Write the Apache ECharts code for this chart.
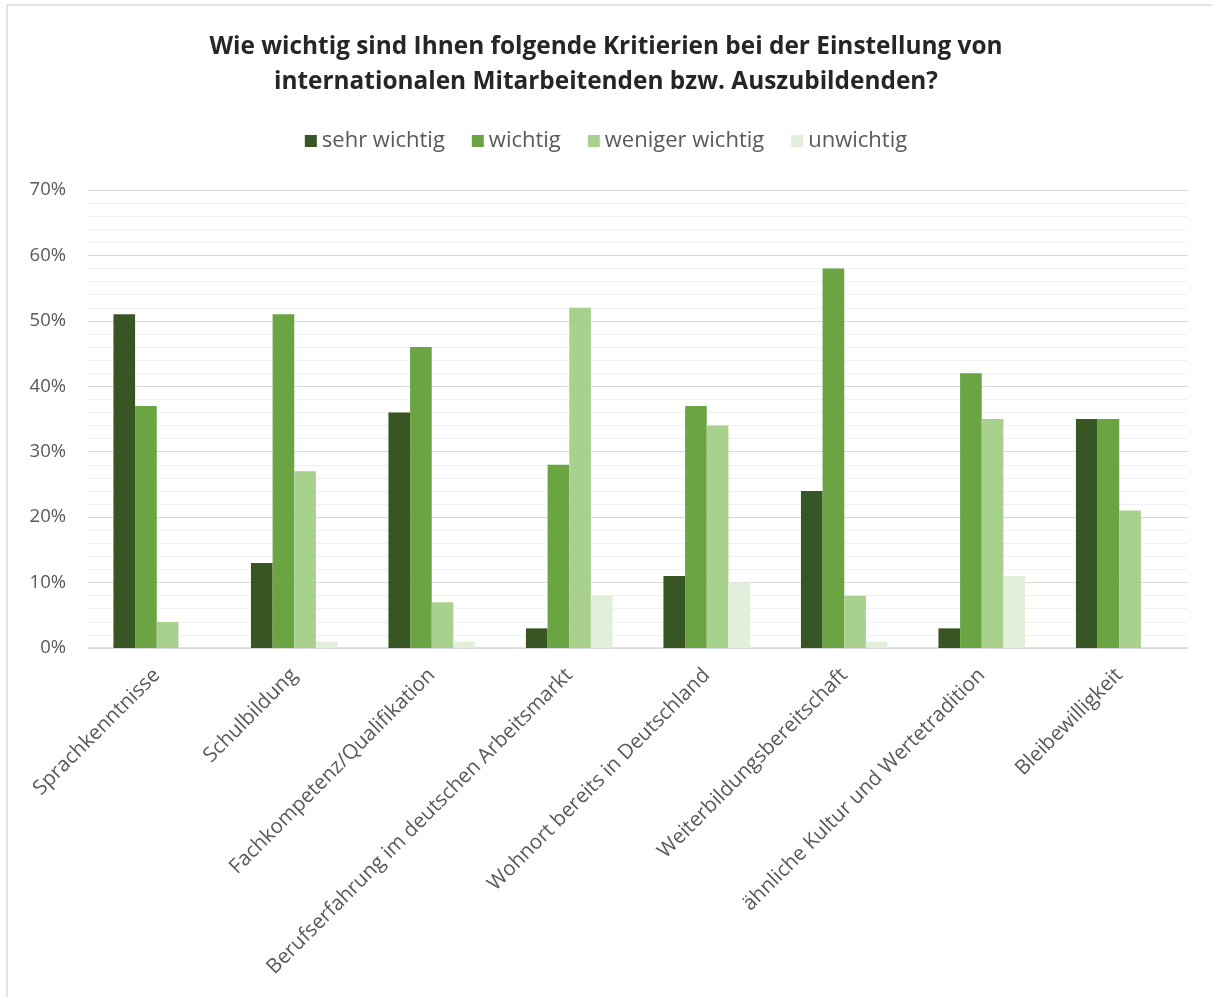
<!DOCTYPE html>
<html>
<head>
<meta charset="utf-8">
<script src="https://cdn.jsdelivr.net/npm/echarts@6/dist/echarts.min.js"></script>
<style>
  html, body { margin: 0; padding: 0; background: #fff; }
  #chart { width: 1212px; height: 997px; }
</style>
</head>
<body>
<div id="chart"></div>
<script>
// Criteria and the share of answers per rating (percent)
const categories = [
  'Sprachkenntnisse',
  'Schulbildung',
  'Fachkompetenz/Qualifikation',
  'Berufserfahrung im deutschen Arbeitsmarkt',
  'Wohnort bereits in Deutschland',
  'Weiterbildungsbereitschaft',
  'ähnliche Kultur und Wertetradition',
  'Bleibewilligkeit'
];
const seriesNames = ['sehr wichtig', 'wichtig', 'weniger wichtig', 'unwichtig'];
const sehrWichtig    = [51, 13, 36,  3, 11, 24,  3, 35];
const wichtig        = [37, 51, 46, 28, 37, 58, 42, 35];
const wenigerWichtig = [ 4, 27,  7, 52, 34,  8, 35, 21];
const unwichtig      = [ 0,  1,  1,  8, 10,  1, 11,  0];
const yTicks = [0, 10, 20, 30, 40, 50, 60, 70];

const colors = ['#375623', '#6aa443', '#a9d18e', '#e2efda'];
const font = '"Open Sans", "DejaVu Sans", sans-serif';

const chart = echarts.init(document.getElementById('chart'), null, { renderer: 'canvas' });

const values = [sehrWichtig, wichtig, wenigerWichtig, unwichtig];

chart.setOption({
  animation: false,
  backgroundColor: '#fff',
  color: colors,
  title: {
    text: 'Wie wichtig sind Ihnen folgende Kritierien bei der Einstellung von\ninternationalen Mitarbeitenden bzw. Auszubildenden?',
    left: 'center',
    top: 25,
    textStyle: {
      fontFamily: font,
      fontSize: 24.4,
      fontWeight: 'bold',
      color: '#262626',
      lineHeight: 35
    }
  },
  legend: {
    top: 125,
    left: 'center',
    itemWidth: 12,
    itemHeight: 12,
    itemGap: 27,
    icon: 'rect',
    textStyle: { fontFamily: font, fontSize: 22, color: '#595959' },
    data: seriesNames
  },
  grid: { left: 88, right: 24, top: 190, bottom: 349, containLabel: false },
  xAxis: {
    type: 'category',
    data: categories,
    axisLine: { show: true, lineStyle: { color: '#d9d9d9', width: 1.5 } },
    axisTick: { show: false },
    axisLabel: {
      rotate: 45,
      interval: 0,
      margin: 24,
      fontFamily: font,
      fontSize: 20.5,
      color: '#595959'
    }
  },
  yAxis: {
    type: 'value',
    min: yTicks[0],
    max: yTicks[yTicks.length - 1],
    interval: 10,
    axisLine: { show: false },
    axisTick: { show: false },
    axisLabel: {
      margin: 22,
      fontFamily: font,
      fontSize: 18.5,
      color: '#595959',
      formatter: v => v + '%'
    },
    splitLine: { lineStyle: { color: '#d9d9d9', width: 1.2 } },
    minorTick: { show: false, splitNumber: 5 },
    minorSplitLine: { show: true, lineStyle: { color: '#f0f0f0', width: 1 } }
  },
  series: seriesNames.map((name, i) => ({
    name,
    type: 'bar',
    data: values[i],
    barGap: '0%',
    barCategoryGap: '37%',
    itemStyle: { color: colors[i] }
  })),
  graphic: [
    {
      type: 'polyline',
      shape: { points: [[7, 997], [7, 5], [1212, 5]] },
      style: { stroke: '#d9d9d9', lineWidth: 1.5, fill: null },
      silent: true
    }
  ]
});
</script>
</body>
</html>
